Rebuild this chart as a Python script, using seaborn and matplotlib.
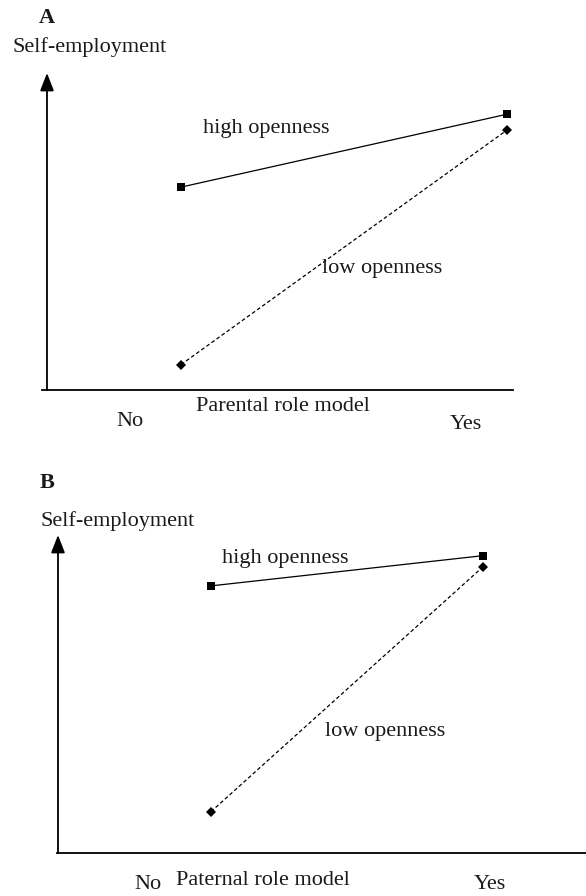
import matplotlib
matplotlib.use("Agg")
import matplotlib.pyplot as plt
import seaborn as sns
import pandas as pd

sns.set_theme(style="white")
plt.rcParams['font.family'] = ['Liberation Serif', 'DejaVu Serif']

# ---- data (arbitrary units) ----
categories = ["No", "Yes"]
cat_pos = [0, 1]
high_A = [6.4, 8.7]
low_A = [0.8, 8.2]
high_B = [8.4, 9.35]
low_B = [1.3, 9.0]
xlabel_A = "Parental role model"
xlabel_B = "Paternal role model"
ylabel = "Self-employment"
series_names = ["high openness", "low openness"]

W, H = 586, 896
fig = plt.figure(figsize=(W / 100, H / 100), dpi=100)
fig.patch.set_facecolor("white")

FS = 16


def fx(x):
    return x / W


def fy(y):
    return 1 - y / H


def panel(rect_px, xlim, arrow_x, high, low):
    left, right, top, bottom = rect_px
    ax = fig.add_axes([fx(left), fy(bottom), fx(right) - fx(left), fy(top) - fy(bottom)])
    df = pd.DataFrame({
        "x": cat_pos * 2,
        "y": high + low,
        "series": [series_names[0]] * 2 + [series_names[1]] * 2,
    })
    sns.lineplot(data=df[df.series == series_names[0]], x="x", y="y", ax=ax,
                 color="black", lw=0.9, marker="s", markersize=6,
                 markeredgewidth=0, legend=False)
    sns.lineplot(data=df[df.series == series_names[1]], x="x", y="y", ax=ax,
                 color="black", lw=0.9, marker="D", markersize=5,
                 markeredgewidth=0, legend=False, dashes=False)
    ax.lines[-1].set_linestyle((0, (3, 2)))
    ax.set_xlim(*xlim)
    ax.set_ylim(0, 10)
    for s in ["top", "right", "left"]:
        ax.spines[s].set_visible(False)
    ax.spines["bottom"].set_color("black")
    ax.spines["bottom"].set_linewidth(1.3)
    ax.set_xticks([])
    ax.set_yticks([])
    ax.set_xlabel("")
    ax.set_ylabel("")
    ax.patch.set_alpha(0)
    ax.annotate("", xy=(arrow_x, 10), xytext=(arrow_x, 0),
                xycoords="data", textcoords="data",
                arrowprops=dict(arrowstyle="-|>,head_length=0.9,head_width=0.35",
                                color="black", lw=1.3, shrinkA=0, shrinkB=0),
                annotation_clip=False)
    return ax


# Panel A: axes px: left 42, right 513, top 73, bottom 390; No->181, Yes->507
axA = panel((42, 513, 73, 390), ((42 - 181) / 326, (513 - 181) / 326), (47 - 181) / 326, high_A, low_A)
# Panel B: axes px: left 57, right 586, top 535, bottom 853; No->211, Yes->483
axB = panel((57, 586, 535, 853), ((57 - 211) / 272, (586 - 211) / 272), (58 - 211) / 272, high_B, low_B)


def t(x, y, s, ha="left", **kw):
    fig.text(fx(x), fy(y), s, ha=ha, va="center", fontsize=FS, color="#1a1a1a", **kw)


# Panel A texts
t(47, 18, "A", ha="center", fontweight="bold")
t(13, 47, ylabel)
t(203, 128, series_names[0])
t(322, 268, series_names[1])
t(130, 421, categories[0], ha="center")
t(283, 406, xlabel_A, ha="center")
t(466, 424, categories[1], ha="center")

# Panel B texts
t(47, 483, "B", ha="center", fontweight="bold")
t(40, 521, ylabel)
t(222, 558, series_names[0])
t(325, 731, series_names[1])
t(148, 884, categories[0], ha="center")
t(263, 880, xlabel_B, ha="center")
t(490, 884, categories[1], ha="center")

fig.savefig("out.png", dpi=100, facecolor="white")
